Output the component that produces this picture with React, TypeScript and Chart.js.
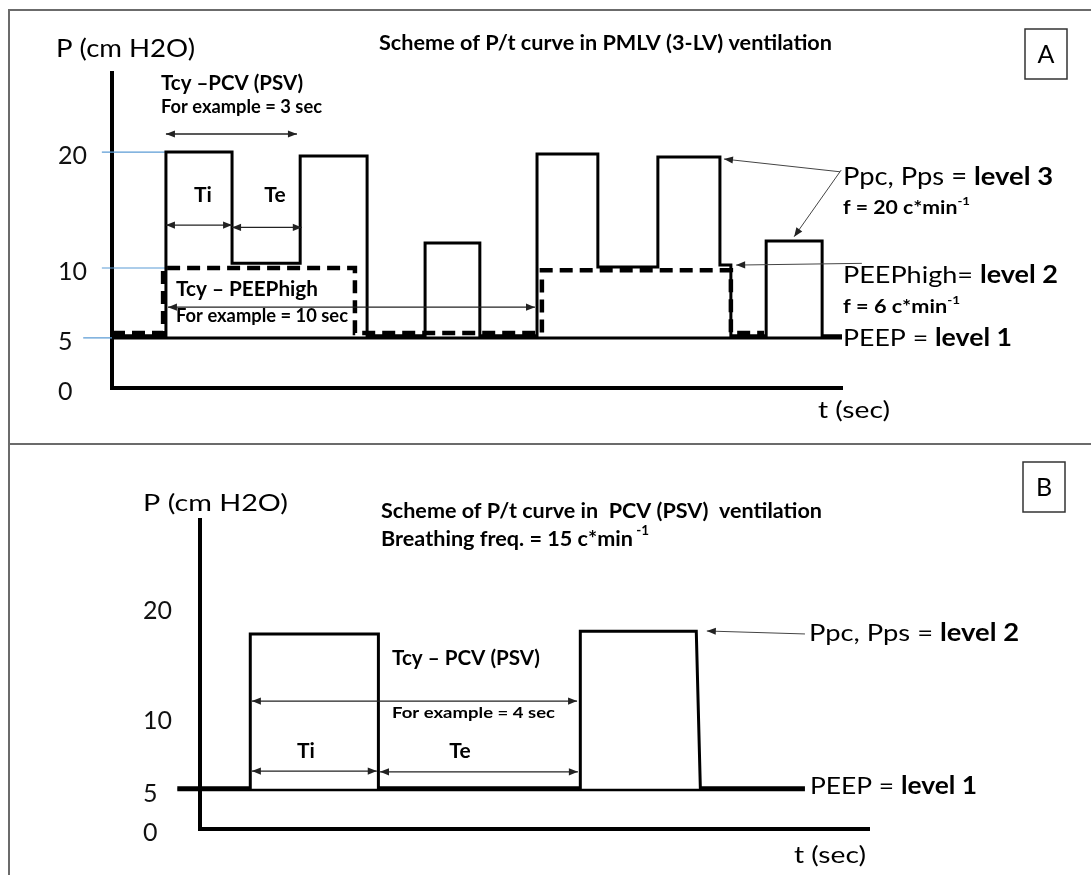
import { useEffect, useRef } from 'react';
import { Chart, LinearScale, registerables } from 'chart.js';

// ---------- Panel A: PMLV (3-LV) ----------
const yTicksA = [0, 5, 10, 20];
// pressure curve (Ppc / Pps cycles), time in sec, pressure in cm H2O
const pressureTimeA = [0, 1.33, 1.33, 2.96, 2.96, 4.64, 4.64, 6.29, 6.29, 7.72, 7.72, 9.07, 9.07, 10.48, 10.48, 11.98, 11.98, 13.46, 13.46, 14.99, 14.99, 15.26, 15.26, 16.13, 16.13, 17.51, 17.51, 18];
const pressureA = [5.15, 5.15, 20, 20, 10.4, 10.4, 19.66, 19.66, 5.15, 5.15, 12.16, 12.16, 5.15, 5.15, 19.83, 19.83, 10.09, 10.09, 19.57, 19.57, 10.26, 10.26, 5.15, 5.15, 12.33, 12.33, 5.15, 5.15];
// PEEPhigh curve (dashed)
const peepHighTimeA = [0, 1.26, 1.26, 5.99, 5.99, 10.6, 10.6, 15.26, 15.26, 16.08];
const peepHighA = [5.36, 5.36, 10, 10, 5.36, 5.36, 9.83, 9.83, 5.36, 5.36];
// PEEP level 1
const peepTimeA = [0, 18];
const peepA = [5, 5];
// blue guides from the tick labels
const guideLevelA = [20, 10, 5];
const guideFromA = [-0.25, -0.25, -0.71];
const guideToA = [1.31, 1.31, 0.86];
// duration arrows: Tcy PCV, Ti, Te, Tcy PEEPhigh
const spanFromA = [1.33, 1.33, 2.96, 1.38];
const spanToA = [4.56, 2.96, 4.68, 10.43];
const spanAtA = [21.6, 13.7, 13.5, 7.2];

// ---------- Panel B: PCV (PSV) ----------
const yTicksB = [0, 5, 10, 20];
const pressureTimeB = [-0.28, 0.62, 0.62, 2.2, 2.2, 4.69, 4.69, 6.12, 6.17, 7.46];
const pressureB = [5.15, 5.15, 17.55, 17.55, 5.15, 5.15, 17.8, 17.8, 5.15, 5.15];
const peepTimeB = [-0.28, 7.46];
const peepB = [5, 5];
// duration arrows: Tcy, Ti, Te
const spanFromB = [0.64, 0.64, 2.22];
const spanToB = [4.65, 2.18, 4.66];
const spanAtB = [11.45, 6.3, 6.25];

const FONT = 'Lato, "Open Sans", sans-serif';
const INK = '#000';

// y axis where the levels are not evenly spaced: [value, fraction of axis height]
function levelScale(id: string, stops: number[][]) {
  const interp = (v: number, a: number, b: number) => {
    let i = 1;
    while (i < stops.length - 1 && v > stops[i][a]) i++;
    const p = stops[i - 1];
    const q = stops[i];
    return p[b] + ((v - p[a]) * (q[b] - p[b])) / (q[a] - p[a]);
  };
  return class extends LinearScale {
    static id = id;
    static defaults = {};
    getPixelForValue(value: number) {
      if (value === null || value === undefined) return NaN;
      return this.getPixelForDecimal(interp(value, 0, 1));
    }
    getValueForPixel(pixel: number) {
      return interp(this.getDecimalForPixel(pixel), 1, 0);
    }
  };
}

const LevelScaleA = levelScale('levelA', [[0, 0], [5, 0.159], [10, 0.381], [20, 0.749], [27, 1]]);
const LevelScaleB = levelScale('levelB', [[0, 0], [5, 0.126], [10, 0.3625], [20, 0.7184], [28, 1]]);
Chart.register(...registerables, LevelScaleA, LevelScaleB);

type Part = { t: string; bold?: boolean; sup?: boolean };
type Note = { x: number; y: number; size: number; parts: Part[]; w?: number; center?: boolean };
type Box = { x: number; y: number; w: number; h: number; label: string };

const line = (xs: number[], ys: number[]) => xs.map((x, i) => ({ x, y: ys[i] }));

function arrowHead(ctx: CanvasRenderingContext2D, x1: number, y1: number, x2: number, y2: number) {
  const len = 9;
  const half = 3.6;
  const a = Math.atan2(y2 - y1, x2 - x1);
  const bx = x2 - len * Math.cos(a);
  const by = y2 - len * Math.sin(a);
  ctx.beginPath();
  ctx.moveTo(x2, y2);
  ctx.lineTo(bx + half * Math.sin(a), by - half * Math.cos(a));
  ctx.lineTo(bx - half * Math.sin(a), by + half * Math.cos(a));
  ctx.closePath();
  ctx.fill();
}

function drawNote(ctx: CanvasRenderingContext2D, n: Note) {
  const font = (p: Part) => `${p.bold ? 'bold ' : ''}${p.sup ? n.size * 0.62 : n.size}px ${FONT}`;
  const widths = n.parts.map((p) => {
    ctx.font = font(p);
    return ctx.measureText(p.t).width;
  });
  const natural = widths.reduce((a, b) => a + b, 0);
  const sx = n.w ? n.w / natural : 1;
  const left = n.center ? n.x - (natural * sx) / 2 : n.x;
  ctx.save();
  ctx.translate(left, n.y);
  ctx.scale(sx, 1);
  ctx.textBaseline = 'middle';
  ctx.textAlign = 'left';
  let cx = 0;
  n.parts.forEach((p, i) => {
    ctx.font = font(p);
    ctx.fillText(p.t, cx, p.sup ? -n.size * 0.38 : 0);
    cx += widths[i];
  });
  ctx.restore();
}

interface PanelSpec {
  yType: string;
  yMax: number;
  xMax: number;
  yTicks: number[];
  datasets: any[];
  padding: { left: number; right: number; top: number; bottom: number };
  axisWidth: number;
  labelOffset: number;
  spanFrom: number[];
  spanTo: number[];
  spanAt: number[];
  callouts: number[][];
  notes: Note[];
  boxes: Box[];
}

function notesPlugin(p: PanelSpec) {
  return {
    id: 'notes',
    afterDatasetsDraw(chart: Chart) {
      const { ctx } = chart;
      const X = (v: number) => chart.scales.x.getPixelForValue(v);
      const Y = (v: number) => chart.scales.y.getPixelForValue(v);
      ctx.save();
      ctx.strokeStyle = '#222';
      ctx.fillStyle = '#222';
      p.spanFrom.forEach((from, i) => {
        const x1 = X(from);
        const x2 = X(p.spanTo[i]);
        const y = Y(p.spanAt[i]);
        ctx.lineWidth = 1.3;
        ctx.beginPath();
        ctx.moveTo(x1, y);
        ctx.lineTo(x2, y);
        ctx.stroke();
        arrowHead(ctx, x2, y, x1, y);
        arrowHead(ctx, x1, y, x2, y);
      });
      ctx.strokeStyle = '#444';
      ctx.fillStyle = '#222';
      p.callouts.forEach(([a, b, c, d]) => {
        const x1 = X(a), y1 = Y(b), x2 = X(c), y2 = Y(d);
        ctx.lineWidth = 1;
        ctx.beginPath();
        ctx.moveTo(x1, y1);
        ctx.lineTo(x2, y2);
        ctx.stroke();
        arrowHead(ctx, x1, y1, x2, y2);
      });
      ctx.fillStyle = INK;
      p.notes.forEach((n) => drawNote(ctx, n));
      p.boxes.forEach((b) => {
        ctx.strokeStyle = '#333';
        ctx.lineWidth = 1.5;
        ctx.strokeRect(b.x, b.y, b.w, b.h);
        drawNote(ctx, { x: b.x + b.w / 2, y: b.y + b.h / 2 + 1, size: 25, parts: [{ t: b.label }], center: true });
      });
      ctx.restore();
    },
  };
}

function buildConfig(p: PanelSpec): any {
  return {
    type: 'line',
    data: { datasets: p.datasets },
    options: {
      animation: false,
      responsive: true,
      maintainAspectRatio: false,
      events: [],
      layout: { padding: p.padding },
      elements: {
        point: { radius: 0, hoverRadius: 0 },
        line: { tension: 0, borderCapStyle: 'butt', borderJoinStyle: 'miter' },
      },
      plugins: { legend: { display: false }, tooltip: { enabled: false } },
      scales: {
        x: {
          type: 'linear',
          min: 0,
          max: p.xMax,
          ticks: { display: false },
          grid: { display: false, drawTicks: false },
          border: { display: true, color: '#000', width: 4 },
          afterFit: (s: any) => {
            s.height = 0;
          },
        },
        y: {
          type: p.yType,
          min: 0,
          max: p.yMax,
          afterBuildTicks: (s: any) => {
            s.ticks = p.yTicks.map((value) => ({ value }));
          },
          ticks: {
            autoSkip: false,
            crossAlign: 'far',
            padding: 0,
            labelOffset: p.labelOffset,
            color: '#111',
            font: { family: FONT, size: 25 },
            callback: (v: number) => String(v),
          },
          grid: { display: false, drawTicks: false },
          border: { display: true, color: '#000', width: 4 },
          afterFit: (s: any) => {
            s.width = p.axisWidth;
          },
        },
      },
    },
    plugins: [notesPlugin(p)],
  };
}

const trace = (data: any[], extra: any = {}) => ({
  data,
  borderColor: '#000',
  borderWidth: 3,
  pointRadius: 0,
  clip: false,
  ...extra,
});

const panelA: PanelSpec = {
  yType: 'levelA',
  yMax: 27,
  xMax: 18,
  yTicks: yTicksA,
  datasets: [
    trace(line(peepTimeA, peepA), { label: 'PEEP' }),
    trace(line(pressureTimeA, pressureA), { label: 'Ppc, Pps' }),
    trace(line(peepHighTimeA, peepHighA), { label: 'PEEPhigh', borderWidth: 4.5, borderDash: [13, 7] }),
    ...guideLevelA.map((lv, i) =>
      trace(line([guideFromA[i], guideToA[i]], [lv, lv]), { label: `guide ${lv}`, borderColor: '#5b9bd5', borderWidth: 1.2 }),
    ),
  ],
  padding: { left: 58, right: 249, top: 73, bottom: 56 },
  axisWidth: 54,
  labelOffset: 4,
  spanFrom: spanFromA,
  spanTo: spanToA,
  spanAt: spanAtA,
  callouts: [
    [17.95, 18.3, 15.09, 19.4],
    [17.98, 18.45, 16.82, 12.7],
    [18.49, 10.4, 15.39, 10.25],
  ],
  notes: [
    { x: 56, y: 49, size: 25, w: 139, parts: [{ t: 'P (cm H2O)' }] },
    { x: 379, y: 44, size: 20, w: 453, parts: [{ t: 'Scheme of P/t curve in PMLV (3-LV) ventilation', bold: true }] },
    { x: 161, y: 83, size: 21, w: 142, parts: [{ t: 'Tcy –PCV (PSV)', bold: true }] },
    { x: 161, y: 107, size: 18, w: 161, parts: [{ t: 'For example = 3 sec', bold: true }] },
    { x: 203, y: 195, size: 21, center: true, parts: [{ t: 'Ti', bold: true }] },
    { x: 275, y: 195, size: 21, center: true, parts: [{ t: 'Te', bold: true }] },
    { x: 176, y: 289, size: 21, w: 142, parts: [{ t: 'Tcy – PEEPhigh', bold: true }] },
    { x: 176, y: 316, size: 18, w: 172, parts: [{ t: 'For example = 10 sec', bold: true }] },
    { x: 843, y: 177, size: 25, w: 210, parts: [{ t: 'Ppc, Pps = ' }, { t: 'level 3', bold: true }] },
    { x: 843, y: 208, size: 19, w: 127, parts: [{ t: 'f = 20 c*min', bold: true }, { t: '-1', bold: true, sup: true }] },
    { x: 843, y: 275, size: 24, w: 215, parts: [{ t: 'PEEPhigh= ' }, { t: 'level 2', bold: true }] },
    { x: 843, y: 307, size: 19, w: 117, parts: [{ t: 'f = 6 c*min', bold: true }, { t: '-1', bold: true, sup: true }] },
    { x: 843, y: 338, size: 24, w: 169, parts: [{ t: 'PEEP = ' }, { t: 'level 1', bold: true }] },
    { x: 818, y: 410, size: 24, w: 72, parts: [{ t: 't (sec)' }] },
  ],
  boxes: [{ x: 1025, y: 29, w: 42, h: 50, label: 'A' }],
};

const panelB: PanelSpec = {
  yType: 'levelB',
  yMax: 28,
  xMax: 8.25,
  yTicks: yTicksB,
  datasets: [
    trace(line(peepTimeB, peepB), { label: 'PEEP', borderWidth: 2.5 }),
    trace(line(pressureTimeB, pressureB), { label: 'Ppc, Pps' }),
  ],
  padding: { left: 143, right: 222, top: 76, bottom: 46 },
  axisWidth: 57,
  labelOffset: 4,
  spanFrom: spanFromB,
  spanTo: spanToB,
  spanAt: spanAtB,
  callouts: [[7.46, 17.55, 6.25, 17.82]],
  notes: [
    { x: 143, y: 59, size: 24, w: 145, parts: [{ t: 'P (cm H2O)' }] },
    { x: 381, y: 67, size: 20.5, w: 441, parts: [{ t: 'Scheme of P/t curve in  PCV (PSV)  ventilation', bold: true }] },
    { x: 381, y: 95, size: 20.5, w: 268, parts: [{ t: 'Breathing freq. = 15 c*min', bold: true }, { t: ' -1', bold: true, sup: true }] },
    { x: 392, y: 214, size: 21, w: 148, parts: [{ t: 'Tcy – PCV (PSV)', bold: true }] },
    { x: 392, y: 269, size: 16, w: 163, parts: [{ t: 'For example = 4 sec', bold: true }] },
    { x: 306, y: 307, size: 21, center: true, parts: [{ t: 'Ti', bold: true }] },
    { x: 460, y: 307, size: 21, center: true, parts: [{ t: 'Te', bold: true }] },
    { x: 809, y: 189, size: 24, w: 210, parts: [{ t: 'Ppc, Pps = ' }, { t: 'level 2', bold: true }] },
    { x: 810, y: 342, size: 24, w: 167, parts: [{ t: 'PEEP = ' }, { t: 'level 1', bold: true }] },
    { x: 794, y: 411, size: 24, w: 72, parts: [{ t: 't (sec)' }] },
  ],
  boxes: [{ x: 1023, y: 18, w: 42, h: 50, label: 'B' }],
};

function PanelChart({ spec, top, height }: { spec: PanelSpec; top: number; height: number }) {
  const canvasRef = useRef<HTMLCanvasElement>(null);

  useEffect(() => {
    if (!canvasRef.current) return;
    const chart = new Chart(canvasRef.current, buildConfig(spec));
    return () => {
      chart.destroy();
    };
  }, [spec]);

  return (
    <div style={{ position: 'absolute', left: 0, top, width: 1091, height }}>
      <canvas ref={canvasRef} />
    </div>
  );
}

const frame = '#6b6b6b';

export default function App() {
  return (
    <div style={{ position: 'absolute', left: 0, top: 0, width: 1091, height: 875, background: '#fff', overflow: 'hidden' }}>
      <PanelChart spec={panelA} top={0} height={444} />
      <PanelChart spec={panelB} top={444} height={431} />
      <div style={{ position: 'absolute', left: 8, top: 9, width: 1083, height: 2, background: frame }} />
      <div style={{ position: 'absolute', left: 8, top: 9, width: 2, height: 866, background: frame }} />
      <div style={{ position: 'absolute', left: 8, top: 443, width: 1083, height: 2, background: frame }} />
    </div>
  );
}
